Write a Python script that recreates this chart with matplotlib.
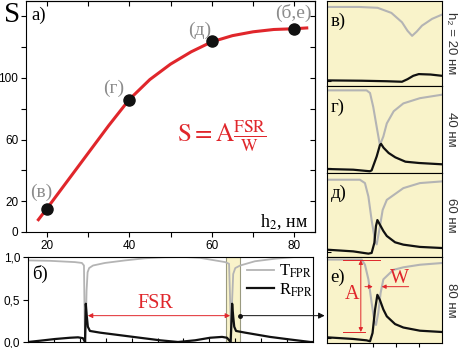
import numpy as np
import matplotlib
matplotlib.use('Agg')
import matplotlib.pyplot as plt

plt.rcParams['font.family'] = ['Liberation Serif', 'DejaVu Serif']
plt.rcParams['mathtext.fontset'] = 'stix'

# --- panel a): sensitivity vs h2
h_fit = [18, 20, 25, 30, 35, 40, 45, 50, 55, 60, 65, 70, 75, 80, 83]
s_fit = [8, 15, 33, 51, 69, 86, 99, 109, 117, 123.5, 127.5, 130, 131.5, 132, 132.5]
h_pts = [20, 40, 60, 80]
s_pts = [15, 86, 124, 132]
pt_names = ['(в)', '(г)', '(д)', '(б,е)']

# --- panel б): full spectrum (arbitrary wavelength units)
lam_T = [0, 0.85, 1.81, 2.08, 2.16, 2.185, 2.2, 2.22, 2.26, 2.3, 2.36, 2.51, 2.97, 3.75,
         4.52, 5.29, 6.06, 6.64, 7.22, 7.61, 7.76, 7.82, 7.84, 7.88, 7.92, 8.0, 8.19,
         8.76, 9.54, 10.3, 11]
T_fpr = [0.96, 0.955, 0.94, 0.93, 0.9, 0.3, 0.02, 0.0, 0.6, 0.82, 0.87, 0.9, 0.93, 0.96,
         0.985, 0.997, 1.0, 0.99, 0.96, 0.94, 0.92, 0.3, 0.0, 0.5, 0.8, 0.87, 0.9,
         0.95, 0.98, 1.0, 1.0]
lam_R = [0, 0.46, 1.04, 1.62, 1.93, 2.12, 2.2, 2.23, 2.27, 2.31, 2.39, 2.78, 3.55, 4.32,
         5.1, 5.79, 6.45, 7.03, 7.49, 7.68, 7.82, 7.88, 7.92, 7.96, 8.03, 8.38, 9.34,
         10.1, 10.9, 11]
R_fpr = [0.0, 0.015, 0.035, 0.05, 0.055, 0.045, 0.0, 0.45, 0.3, 0.18, 0.13, 0.11, 0.08,
         0.05, 0.02, 0.0, 0.02, 0.05, 0.06, 0.05, 0.0, 0.45, 0.3, 0.18, 0.13, 0.11, 0.06,
         0.03, 0.0, 0.0]
zoom_lo, zoom_hi = 7.65, 8.19

# --- panels в)-е): zoom on resonance for h2 = 20, 40, 60, 80 nm
side_names = ['в)', 'г)', 'д)', 'е)']
side_h = ['h\u2082 = 20 нм', '40 нм', '60 нм', '80 нм']
xT_20 = [0, 1.4, 2.2, 2.8, 3.26, 3.5, 3.7, 3.9, 4.13, 4.57, 5.0]
yT_20 = [0.93, 0.93, 0.92, 0.86, 0.75, 0.65, 0.59, 0.64, 0.71, 0.79, 0.84]
xR_20 = [0, 1.5, 2.6, 3.26, 3.5, 3.75, 3.99, 4.5, 5.0]
yR_20 = [0.066, 0.062, 0.056, 0.05, 0.08, 0.12, 0.14, 0.135, 0.12]
xT_40 = [0, 1.72, 1.87, 2.01, 2.16, 2.3, 2.45, 2.6, 2.9, 3.32, 4.04, 5.0]
yT_40 = [0.95, 0.95, 0.92, 0.76, 0.53, 0.32, 0.42, 0.57, 0.71, 0.8, 0.86, 0.9]
xR_40 = [0, 1.14, 1.86, 1.94, 2.16, 2.3, 2.35, 2.46, 2.68, 2.97, 3.41, 4.0, 5.0]
yR_40 = [0.046, 0.038, 0.02, 0.03, 0.19, 0.32, 0.335, 0.29, 0.23, 0.18, 0.13, 0.115, 0.10]
xT_60 = [0, 1.43, 1.65, 1.8, 1.94, 2.09, 2.16, 2.28, 2.42, 2.6, 3.32, 4.04, 5.0]
yT_60 = [0.92, 0.92, 0.88, 0.72, 0.44, 0.19, 0.15, 0.33, 0.56, 0.68, 0.82, 0.88, 0.9]
xR_60 = [0, 1.14, 1.8, 1.94, 2.06, 2.13, 2.19, 2.3, 2.45, 2.6, 2.96, 3.32, 4.04, 5.0]
yR_60 = [0.087, 0.067, 0.04, 0.048, 0.17, 0.37, 0.44, 0.385, 0.31, 0.25, 0.175, 0.147, 0.12, 0.107]
xT_80 = [0, 1.51, 1.65, 1.8, 1.94, 2.06, 2.13, 2.23, 2.33, 2.45, 2.88, 3.32, 4.04, 5.0]
yT_80 = [0.97, 0.97, 0.91, 0.74, 0.47, 0.25, 0.21, 0.35, 0.58, 0.74, 0.85, 0.88, 0.91, 0.93]
xR_80 = [0, 1.14, 1.72, 1.87, 1.98, 2.09, 2.19, 2.3, 2.45, 2.6, 2.96, 3.32, 4.04, 5.0]
yR_80 = [0.066, 0.047, 0.031, 0.02, 0.116, 0.39, 0.56, 0.5, 0.39, 0.31, 0.22, 0.18, 0.143, 0.128]
side_T = [(xT_20, yT_20), (xT_40, yT_40), (xT_60, yT_60), (xT_80, yT_80)]
side_R = [(xR_20, yR_20), (xR_40, yR_40), (xR_60, yR_60), (xR_80, yR_80)]

RED = '#e0262b'
GRAYT = '#b4b4b4'
YEL = '#f9f3ca'
SANS = ['Liberation Sans', 'DejaVu Sans']

W, H = 459.0, 348.0
def box(l, t, r, b):
    return [l / W, 1 - b / H, (r - l) / W, (b - t) / H]

fig = plt.figure(figsize=(4.59, 3.48), dpi=100)

# ---------------- panel a)
ax = fig.add_axes(box(26, 1, 315, 232))
ax.plot(h_fit, s_fit, color=RED, lw=2.2, zorder=2)
ax.plot(h_pts, s_pts, 'o', color='#111111', ms=8, zorder=3)
ax.set_xlim(15, 85)
ax.set_ylim(0, 150)
ax.set_xticks([20, 40, 60, 80])
ax.set_xticklabels(['20', '40', '60', '80'], fontfamily=SANS)
ax.set_xticks([30, 50, 70], minor=True)
ax.set_yticks(range(0, 150, 20))
ax.set_yticklabels(['0', '20', '', '60', '', '100', '', ''], fontfamily=SANS)
ax.tick_params(which='both', direction='out', length=3.5, width=0.8, labelsize=8.5, pad=2)
sx = ax.secondary_xaxis('top')
sx.set_xticks([20, 30, 40, 50, 60, 70, 80])
sx.tick_params(direction='in', length=3.5, width=0.8, labeltop=False)
sy = ax.secondary_yaxis('right')
sy.set_yticks(range(0, 150, 20))
sy.tick_params(direction='in', length=3.5, width=0.8, labelright=False)
for name, hx, sv, dx, dy in zip(pt_names, h_pts, s_pts, [-1.2, -3.8, -3.0, -0.2], [11, 7, 7, 10]):
    ax.text(hx + dx, sv + dy, name, color='#8c8c8c', fontsize=14, ha='center', va='center')
ax.text(16.2, 141, 'а)', fontsize=13.5, ha='left', va='center')
ax.text(62.5, 62, r'$\mathrm{S = A\frac{FSR}{W}}$', color=RED, fontsize=18, ha='center', va='center')
ax.text(83.3, 6.5, 'h$_2$, нм', fontsize=13, ha='right', va='center')
fig.text(12 / W, 1 - 22 / H, 'S', fontsize=21, ha='center', va='baseline')

# ---------------- panel б)
bx = fig.add_axes(box(28, 257, 313, 342))
bx.axvspan(zoom_lo, zoom_hi, facecolor=YEL, edgecolor='#9a9a80', lw=0.8, zorder=0)
lt, = bx.plot(lam_T, T_fpr, color=GRAYT, lw=1.3, label=r'T$_{\mathrm{FPR}}$')
lr, = bx.plot(lam_R, R_fpr, color='#111111', lw=1.6, label=r'R$_{\mathrm{FPR}}$')
bx.set_xlim(0, 11)
bx.set_ylim(0, 1)
bx.set_xticks(range(1, 11))
bx.set_xticklabels([])
bx.set_yticks([0, 0.5, 1.0])
bx.set_yticklabels(['0,0', '0,5', '1,0'], fontfamily=SANS)
bx.tick_params(axis='y', direction='out', length=3.5, width=0.8, labelsize=8.5, pad=2)
bx.tick_params(axis='x', direction='in', length=3, width=0.8)
bx.legend(handles=[lt, lr], loc='upper left', bbox_to_anchor=(0.77, 0.93), frameon=False,
          fontsize=12, handlelength=1.6, handletextpad=0.3, labelspacing=0.05,
          borderaxespad=0, borderpad=0)
pk1 = lam_R[int(np.argmax(R_fpr))]
pk2 = lam_T[int(np.argmin(T_fpr[20:])) + 20]
bx.annotate('', xy=(pk1 + 0.08, 0.31), xytext=(pk2 - 0.04, 0.31),
            arrowprops=dict(arrowstyle='<|-|>', color=RED, lw=0.7, mutation_scale=7,
                            shrinkA=0, shrinkB=0))
bx.text((pk1 + pk2) / 2 - 0.1, 0.455, 'FSR', color=RED, fontsize=14.5, ha='center', va='center')
bx.text(0.45, 0.8, 'б)', fontsize=13.5, ha='center', va='center')
bx.plot([zoom_hi], [0.31], 'o', color='#111111', ms=2.5, zorder=4)
bx.annotate('', xy=(11.45, 0.31), xytext=(zoom_hi, 0.31), annotation_clip=False,
            arrowprops=dict(arrowstyle='-|>', color='#111111', lw=0.7, mutation_scale=9,
                            shrinkA=0, shrinkB=0))

# ---------------- panels в)-е)
rows = [(1, 86), (86, 173), (173, 257), (257, 343)]
for i, (t, b) in enumerate(rows):
    rx = fig.add_axes(box(327, t, 442, b))
    rx.set_facecolor(YEL)
    rx.plot(side_T[i][0], side_T[i][1], color=GRAYT, lw=1.5)
    rx.plot(side_R[i][0], side_R[i][1], color='#111111', lw=1.6)
    rx.set_xlim(0, 5)
    rx.set_ylim(0, 1)
    rx.set_yticks([0.06])
    rx.set_yticklabels([])
    rx.tick_params(axis='y', direction='in', length=3, width=0.8)
    if i == 3:
        rx.set_xticks([1, 2, 3, 4])
        rx.tick_params(axis='x', direction='out', length=3, width=0.8)
    else:
        rx.set_xticks([])
    rx.set_xticklabels([])
    rx.text(0.15, 0.76, side_names[i], fontsize=13.5, ha='left', va='center')
    fig.text(451 / W, 1 - (t + b) / 2 / H, side_h[i], rotation=-90, fontsize=9.5,
             color='#333333', ha='center', va='center', family=SANS)
    if i == 3:
        kw = dict(color=RED, lw=0.7)
        rx.plot([0.7, 2.3], [0.965, 0.965], **kw)
        rx.plot([0.7, 1.65], [0.128, 0.128], **kw)
        rx.annotate('', xy=(1.47, 0.965), xytext=(1.47, 0.128),
                    arrowprops=dict(arrowstyle='<|-|>', color=RED, lw=0.7, mutation_scale=6,
                                    shrinkA=0, shrinkB=0))
        rx.text(1.07, 0.56, 'A', color=RED, fontsize=14.5, ha='center', va='center')
        rx.annotate('', xy=(1.99, 0.655), xytext=(1.65, 0.655),
                    arrowprops=dict(arrowstyle='-|>', color=RED, lw=0.7, mutation_scale=6,
                                    shrinkA=0, shrinkB=0))
        rx.annotate('', xy=(2.38, 0.655), xytext=(3.55, 0.655),
                    arrowprops=dict(arrowstyle='-|>', color=RED, lw=0.7, mutation_scale=6,
                                    shrinkA=0, shrinkB=0))
        rx.text(3.17, 0.75, 'W', color=RED, fontsize=14.5, ha='center', va='center')

fig.savefig('out.png', dpi=100)
